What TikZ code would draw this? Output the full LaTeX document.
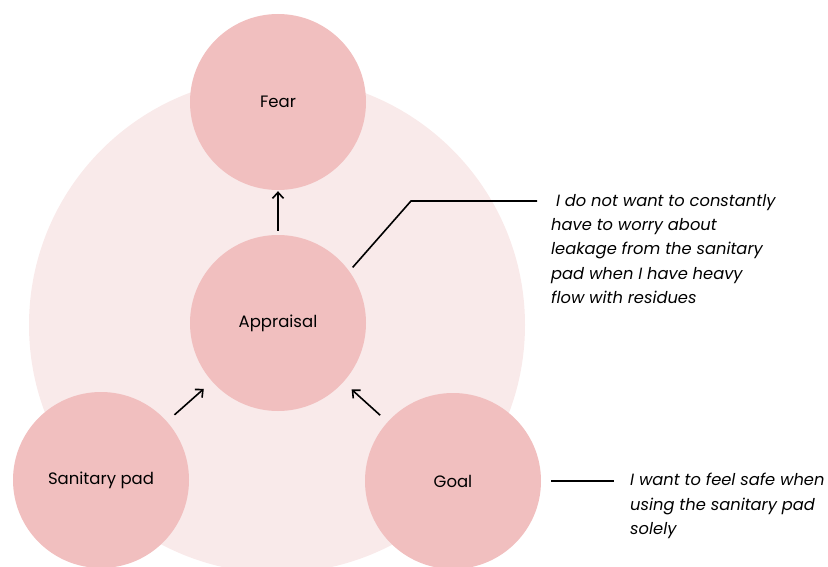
\documentclass[tikz,border=0pt]{standalone}
\usepackage{fontspec}
\setmainfont{Poppins}
\usetikzlibrary{arrows.meta}
\definecolor{haloPink}{HTML}{F9EAEA}
\definecolor{bubblePink}{HTML}{F1BFBF}
\tikzset{
  bubble/.style={circle, fill=bubblePink, minimum size=176pt, inner sep=0pt, font=\fontsize{16.5}{19}\selectfont},
  flow/.style={line width=1.6pt, -{Straight Barb[length=6pt, width=11pt, line width=1.6pt]}},
  leader/.style={line width=1.6pt},
  note/.style={anchor=west, align=left, inner sep=0pt, font=\fontsize{16.3}{24.3}\selectfont\itshape}
}
\begin{document}
\begin{tikzpicture}[x=1pt, y=-1pt]
\useasboundingbox (0,0) rectangle (828,567);
% soft background disc
\fill[haloPink] (277,325) circle (248pt);
% the four stages
\node[bubble] (fear) at (278,102) {Fear};
\node[bubble] (app) at (278,323) {Appraisal};
\node[bubble] (pad) at (101,480) {Sanitary pad};
\node[bubble] (goal) at (453,481) {Goal};
% influences
\draw[flow, shorten <=4pt, shorten >=1pt] (app) -- (fear);
\draw[flow, shorten <=10pt, shorten >=11pt] (pad) -- (app);
\draw[flow, shorten <=10pt, shorten >=11pt] (goal) -- (app);
% annotations
\node[note] (note1) at (551,249) {\ I do not want to constantly\\have to worry about\\leakage from the sanitary\\pad when I have heavy\\flow with residues};
\node[note] (note2) at (630,506) {I want to feel safe when\\using the sanitary pad\\solely};
\coordinate (bend1) at (411,201);
\coordinate (end1) at (537,201);
\coordinate (end2) at (614,481);
\draw[leader, shorten <=5pt] (app.36) -- (bend1) -- (end1);
\draw[leader, shorten <=10pt] (goal.east) -- (end2);
\end{tikzpicture}
\end{document}
